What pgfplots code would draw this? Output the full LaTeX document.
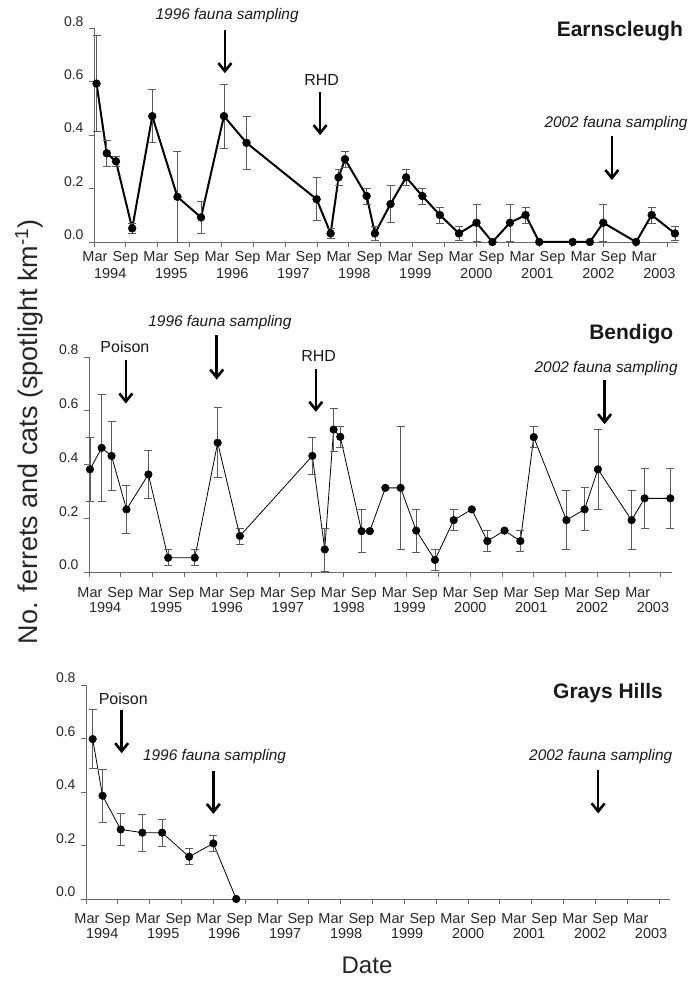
\documentclass[border=0pt]{standalone}
\usepackage{fontspec}
\setmainfont{Liberation Sans}
\usepackage{pgfplots}
\pgfplotsset{compat=1.18}
\usetikzlibrary{arrows.meta}

\definecolor{axgray}{RGB}{105,105,105}
\definecolor{errgray}{RGB}{90,90,90}

\pgfplotsset{
 panel/.style={
  scale only axis, anchor=south west,
  xmin=0, xmax=18.34, ymin=0, ymax=0.8,
  axis x line*=bottom, axis y line*=left,
  axis line style={axgray, line width=0.8pt, -},
  clip=false,
  tick align=outside,
  major tick length=0pt,
  minor tick length=5pt,
  minor tick style={axgray, line width=0.8pt},
  minor xtick={0,1,...,18},
  minor ytick={0,0.2,0.4,0.6,0.8},
  ytick={0,0.2,0.4,0.6,0.8},
  yticklabels={0.0,0.2,0.4,0.6,0.8},
  xtick={0.03,0.988,1.946,2.904,3.862,4.82,5.778,6.736,7.694,8.652,9.61,10.568,11.526,12.484,13.442,14.4,15.358,16.316,17.274},
  xticklabels={Mar,Sep,Mar,Sep,Mar,Sep,Mar,Sep,Mar,Sep,Mar,Sep,Mar,Sep,Mar,Sep,Mar,Sep,Mar},
  extra x ticks={0.509,2.425,4.341,6.257,8.173,10.089,12.005,13.921,15.837,17.753},
  extra x tick labels={1994,1995,1996,1997,1998,1999,2000,2001,2002,2003},
  tick label style={font=\fontsize{14.5}{16}\selectfont, text=black!85},
  yticklabel style={yshift=7pt, xshift=-7pt, font=\fontsize{14}{16}\selectfont},
  xticklabel style={anchor=base},
 },
 errs/.style={error bars/.cd, y dir=both, y explicit,
   error bar style={errgray, line width=0.8pt},
   error mark options={errgray, line width=0.8pt, mark size=4pt, rotate=90}},
}
\tikzset{
 arr/.style={line width=2.6pt, -{Straight Barb[length=8pt,width=13pt]}},
 ann/.style={font=\fontsize{15.4}{17}\selectfont\itshape, text=black!90},
 lab/.style={font=\fontsize{16}{18}\selectfont, text=black!90},
 ttl/.style={font=\fontsize{21}{23}\selectfont\bfseries, text=black!90},
}

\begin{document}
\begin{tikzpicture}
\path[use as bounding box] (0pt,0pt) rectangle (700pt,981pt);

% ---------- Earnscleugh ----------
\begin{axis}[panel, at={(94pt,739pt)}, width=584.1pt, height=213.7pt,
  xticklabel style={yshift=-19.5pt},
  extra x tick style={xticklabel style={yshift=-16.7pt}}]
\addplot[black, line width=2pt, mark=*, mark size=3.9pt,
  mark options={solid, fill=black, line width=0.5pt}, errs] coordinates {
(0.08,0.593) +- (0,0.18)
(0.40,0.332) +- (0,0.05)
(0.69,0.302) +- (0,0.02)
(1.20,0.051) +- (0,0.02)
(1.83,0.471) +- (0,0.10)
(2.62,0.169) +- (0,0.17)
(3.36,0.092) +- (0,0.06)
(4.08,0.471) +- (0,0.12)
(4.79,0.371) +- (0,0.10)
(6.99,0.160) +- (0,0.08)
(7.43,0.032) +- (0,0.02)
(7.68,0.242) +- (0,0.03)
(7.88,0.310) +- (0,0.03)
(8.56,0.172) +- (0,0.03)
(8.82,0.032) +- (0,0.025)
(9.31,0.142) +- (0,0.07)
(9.80,0.242) +- (0,0.03)
(10.31,0.172) +- (0,0.03)
(10.86,0.101) +- (0,0.03)
(11.46,0.032) +- (0,0.025)
(12.01,0.072) +- (0,0.07)
(12.51,0.0) +- (0,0)
(13.06,0.072) +- (0,0.07)
(13.55,0.101) +- (0,0.03)
(13.98,0.0) +- (0,0)
(15.03,0.0) +- (0,0)
(15.57,0.0) +- (0,0)
(15.99,0.072) +- (0,0.07)
(17.02,0.0) +- (0,0)
(17.51,0.101) +- (0,0.03)
(18.24,0.032) +- (0,0.025)
};
\node[ann] at (axis cs:4.18,0.849) {1996 fauna sampling};
\draw[arr] (axis cs:4.11,0.793) -- (axis cs:4.11,0.632);
\node[lab] at (axis cs:7.15,0.606) {RHD};
\draw[arr] (axis cs:7.10,0.561) -- (axis cs:7.10,0.40);
\node[ttl] at (axis cs:16.51,0.789) {Earnscleugh};
\node[ann] at (axis cs:16.39,0.445) {2002 fauna sampling};
\draw[arr] (axis cs:16.26,0.396) -- (axis cs:16.26,0.232);
\end{axis}

% ---------- Bendigo ----------
\begin{axis}[panel, at={(89pt,409pt)}, width=582.6pt, height=215pt,
  xticklabel style={yshift=-25.2pt},
  extra x tick style={xticklabel style={yshift=-15pt}}]
\addplot[black, line width=0.8pt, mark=*, mark size=3.8pt,
  mark options={solid, fill=black, line width=0.5pt}, errs] coordinates {
(0.03,0.382) +- (0,0.12)
(0.40,0.462) +- (0,0.20)
(0.71,0.432) +- (0,0.13)
(1.18,0.233) +- (0,0.09)
(1.87,0.363) +- (0,0.09)
(2.49,0.053) +- (0,0.03)
(3.33,0.053) +- (0,0.03)
(4.05,0.481) +- (0,0.13)
(4.75,0.134) +- (0,0.03)
(7.03,0.432) +- (0,0.07)
(7.42,0.084) +- (0,0.08)
(7.70,0.530) +- (0,0.08)
(7.91,0.503) +- (0,0.04)
(8.58,0.152) +- (0,0.08)
(8.84,0.152) +- (0,0)
(9.33,0.313) +- (0,0)
(9.81,0.313) +- (0,0.23)
(10.30,0.154) +- (0,0.08)
(10.89,0.045) +- (0,0.04)
(11.48,0.193) +- (0,0.04)
(12.05,0.233) +- (0,0)
(12.54,0.115) +- (0,0.04)
(13.08,0.154) +- (0,0)
(13.58,0.115) +- (0,0.04)
(14.00,0.502) +- (0,0.04)
(15.03,0.193) +- (0,0.11)
(15.60,0.233) +- (0,0.08)
(16.02,0.382) +- (0,0.15)
(17.08,0.193) +- (0,0.11)
(17.49,0.274) +- (0,0.11)
(18.30,0.274) +- (0,0.11)
};
\node[lab] at (axis cs:1.13,0.838) {Poison};
\draw[arr] (axis cs:1.16,0.788) -- (axis cs:1.16,0.627);
\node[ann] at (axis cs:4.12,0.93) {1996 fauna sampling};
\draw[arr] (axis cs:4.02,0.881) -- (axis cs:4.02,0.716);
\node[lab] at (axis cs:7.23,0.803) {RHD};
\draw[arr] (axis cs:7.14,0.757) -- (axis cs:7.14,0.596);
\node[ttl] at (axis cs:17.07,0.887) {Bendigo};
\node[ann] at (axis cs:16.28,0.757) {2002 fauna sampling};
\draw[arr] (axis cs:16.23,0.714) -- (axis cs:16.23,0.55);
\end{axis}

% ---------- Grays Hills ----------
\begin{axis}[panel, at={(86pt,82pt)}, width=583.8pt, height=214pt,
  xticklabel style={yshift=-24.2pt},
  extra x tick style={xticklabel style={yshift=-15pt}}]
\addplot[black, line width=0.8pt, mark=*, mark size=3.8pt,
  mark options={solid, fill=black, line width=0.5pt}, errs] coordinates {
(0.21,0.598) +- (0,0.11)
(0.52,0.386) +- (0,0.10)
(1.09,0.260) +- (0,0.06)
(1.77,0.248) +- (0,0.07)
(2.39,0.248) +- (0,0.05)
(3.24,0.158) +- (0,0.03)
(4.00,0.208) +- (0,0.03)
(4.72,0.0) +- (0,0)
};
\node[lab] at (axis cs:1.17,0.75) {Poison};
\draw[arr] (axis cs:1.12,0.707) -- (axis cs:1.12,0.545);
\node[ann] at (axis cs:4.04,0.532) {1996 fauna sampling};
\draw[arr] (axis cs:4.00,0.48) -- (axis cs:4.00,0.318);
\node[ttl] at (axis cs:16.40,0.769) {Grays Hills};
\node[ann] at (axis cs:16.17,0.532) {2002 fauna sampling};
\draw[arr] (axis cs:16.09,0.482) -- (axis cs:16.09,0.32);
\end{axis}

\node[rotate=90, font=\fontsize{27}{30}\selectfont, text=black!85] at (29pt,549pt)
  {No. ferrets and cats (spotlight km\textsuperscript{-1})};
\node[font=\fontsize{24}{26}\selectfont, text=black!85, inner sep=1pt] at (367pt,16pt) {Date};
\end{tikzpicture}
\end{document}
